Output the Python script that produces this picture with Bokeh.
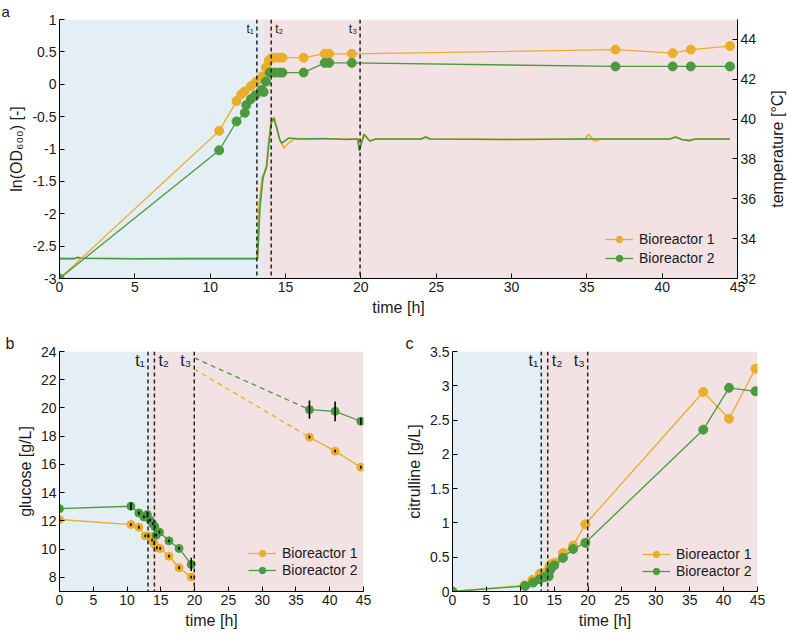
import numpy as np
from bokeh.plotting import figure
from bokeh.models import (Range1d, LinearAxis, FixedTicker, PrintfTickFormatter,
                          Legend, LegendItem, Label, Span, Title)
from bokeh.layouts import column, row
from bokeh.embed import file_html
from bokeh.resources import INLINE

# ---------------- data ----------------
phase_bounds = [0, 13.5, 45]          # growth phase (blue) / production phase (pink)
event_times = [13.1, 14.05, 19.95]    # t1, t2, t3
event_labels = ["t\u2081", "t\u2082", "t\u2083"]

# panel a: ln(OD600)
od_time_br1 = [0, 10.6, 11.75, 12.05, 12.3, 12.7, 13.05, 13.45, 13.7, 13.9, 14.05, 14.3, 14.6, 14.8,
               16.2, 17.6, 17.9, 19.4, 36.9, 40.7, 41.9, 44.5]
od_br1 = [-3.0, -0.72, -0.26, -0.16, -0.11, -0.03, 0.04, 0.12, 0.26, 0.37, 0.40, 0.41, 0.41, 0.41,
          0.41, 0.47, 0.47, 0.47, 0.535, 0.48, 0.535, 0.59]
od_time_br2 = [0, 10.6, 11.75, 12.3, 12.4, 12.7, 13.0, 13.4, 13.55, 13.7, 13.95, 14.05, 14.3, 14.6, 14.8,
               16.2, 17.6, 17.9, 19.4, 36.9, 40.7, 41.9, 44.5]
od_br2 = [-3.0, -1.02, -0.575, -0.44, -0.32, -0.23, -0.17, -0.09, -0.12, 0.04, 0.18, 0.18, 0.18, 0.18, 0.18,
          0.18, 0.33, 0.33, 0.33, 0.275, 0.275, 0.275, 0.275]

# panel a: temperature [°C]
temp_time_br1 = [0, 1.0, 1.2, 1.5, 5, 9, 13.1, 13.25, 13.45, 13.6, 13.75, 13.9, 14.05, 14.25, 14.45,
                 14.65, 14.9, 15.2, 15.6, 17.5, 19.8, 19.9, 20.25, 20.6, 21.0, 24.0, 24.3, 24.6, 30,
                 34.9, 35.1, 35.5, 36.0, 40.5, 40.9, 41.3, 41.8, 42.2, 44.5]
temp_br1 = [33.0, 33.0, 33.06, 33.02, 32.99, 33.0, 33.0, 35.8, 37.1, 37.3, 37.7, 39.0, 39.9, 40.1, 39.5,
            38.9, 38.55, 38.8, 39.02, 39.0, 39.0, 38.5, 39.2, 38.9, 39.0, 39.0, 39.1, 39.0, 38.98,
            39.0, 39.24, 38.9, 39.0, 39.0, 39.1, 38.98, 38.92, 39.0, 39.0]
temp_time_br2 = [0, 1.0, 1.2, 1.5, 5, 9, 13.15, 13.3, 13.5, 13.6, 13.75, 13.9, 14.05, 14.2, 14.4,
                 14.6, 14.75, 14.95, 15.2, 16, 17.5, 19.0, 19.8, 19.9, 20.2, 20.6, 21.0, 24.0, 24.3,
                 24.6, 30, 35, 40.5, 40.9, 41.3, 41.8, 42.2, 44.5]
temp_br2 = [33.0, 33.0, 33.06, 33.02, 32.99, 33.0, 33.0, 35.5, 37.0, 37.3, 37.6, 38.8, 39.8, 40.05, 39.6,
            39.0, 38.8, 38.9, 39.05, 39.0, 39.03, 38.98, 39.0, 38.4, 39.24, 38.9, 39.0, 39.0, 39.1,
            39.0, 38.98, 39.0, 39.0, 39.1, 38.98, 38.92, 39.0, 39.0]

# panel b: glucose [g/L]
glc_time_br1 = [0, 10.57, 11.75, 12.7, 13.2, 13.7, 14.0, 14.4, 14.9, 16.2, 17.7, 19.5]
glc_br1 = [12.1, 11.74, 11.55, 10.94, 10.92, 10.64, 10.4, 10.1, 10.05, 9.5, 8.68, 8.02]
glc_err_br1 = [0.1, 0.1, 0.1, 0.1, 0.1, 0.1, 0.1, 0.1, 0.1, 0.1, 0.1, 0.1]
glc_time_br2 = [0, 10.57, 11.75, 12.5, 13.0, 13.4, 13.8, 14.1, 14.3, 14.8, 16.2, 17.7, 19.5]
glc_br2 = [12.87, 13.04, 12.56, 12.28, 12.45, 12.05, 11.8, 11.6, 10.99, 11.2, 10.59, 10.05, 8.92]
glc_err_br2 = [0.05, 0.26, 0.1, 0.1, 0.2, 0.1, 0.1, 0.1, 0.1, 0.1, 0.1, 0.1, 0.47]
glc_late_time = [37.0, 40.8, 44.6]
glc_late_br1 = [17.93, 16.94, 15.8]
glc_late_err_br1 = [0.1, 0.1, 0.1]
glc_late_br2 = [19.88, 19.76, 19.06]
glc_late_err_br2 = [0.65, 0.7, 0.24]
glc_feed_time = [19.95, 37.0]
glc_feed_br1 = [22.75, 17.93]
glc_feed_br2 = [23.55, 19.88]

# panel c: citrulline [g/L]
cit_time_br1 = [0, 10.6, 11.8, 12.9, 13.6, 14.3, 14.6, 15.1, 16.3, 17.8, 19.6, 37.0, 40.8, 44.7]
cit_br1 = [0, 0.09, 0.17, 0.26, 0.27, 0.37, 0.40, 0.42, 0.56, 0.67, 0.98, 2.91, 2.52, 3.25]
cit_time_br2 = [0, 10.7, 11.9, 12.9, 13.6, 14.2, 14.4, 15.0, 16.3, 17.8, 19.6, 37.0, 40.8, 44.7]
cit_br2 = [0, 0.08, 0.13, 0.18, 0.21, 0.22, 0.31, 0.38, 0.49, 0.62, 0.71, 2.36, 2.97, 2.92]

x_ticks = [0, 5, 10, 15, 20, 25, 30, 35, 40, 45]
od_ticks = [-3, -2.5, -2, -1.5, -1, -0.5, 0, 0.5, 1]
temp_ticks = [32, 34, 36, 38, 40, 42, 44]
glc_ticks = [8, 10, 12, 14, 16, 18, 20, 22, 24]
cit_ticks = [0, 0.5, 1, 1.5, 2, 2.5, 3, 3.5]

# ---------------- style ----------------
YEL = "#e8ae2c"
GRN = "#4b9a3f"
BLUE_BG = "#e3eef5"
PINK_BG = "#f2e2e4"
FONT = "Liberation Sans"
TXT = "#1a1a1a"


def style_axis(ax):
    ax.axis_line_color = "black"
    ax.axis_line_width = 1
    ax.major_tick_in = 5
    ax.major_tick_out = 0
    ax.major_tick_line_color = "black"
    ax.minor_tick_line_color = None
    ax.major_label_text_font = FONT
    ax.major_label_text_font_size = "14px"
    ax.major_label_text_color = TXT
    ax.major_label_standoff = 3
    ax.axis_label_text_font = FONT
    ax.axis_label_text_font_size = "16px"
    ax.axis_label_text_font_style = "normal"
    ax.axis_label_text_color = TXT
    ax.axis_label_standoff = 4


def make_fig(width, height, yr, borders, ylabel, yticks, letter, letter_off, letter_size,
             xlabel="time [h]"):
    p = figure(width=width, height=height, x_range=Range1d(0, 45), y_range=Range1d(*yr),
               output_backend="svg", toolbar_location=None,
               min_border_left=borders[0], min_border_right=borders[1],
               min_border_top=borders[2], min_border_bottom=borders[3])
    p.title = Title(text=letter, align="left", offset=letter_off, standoff=0,
                    text_font=FONT, text_font_size=letter_size, text_font_style="normal",
                    text_color=TXT)
    p.outline_line_color = None
    p.grid.visible = False
    p.xaxis.axis_label = xlabel
    p.yaxis.axis_label = ylabel
    p.xaxis.ticker = FixedTicker(ticks=x_ticks)
    p.yaxis.ticker = FixedTicker(ticks=yticks)
    p.yaxis.formatter = PrintfTickFormatter(format="%g")
    p.xaxis.formatter = PrintfTickFormatter(format="%g")
    style_axis(p.xaxis[0])
    style_axis(p.yaxis[0])
    # phase backgrounds
    p.quad(left=phase_bounds[:-1], right=phase_bounds[1:], bottom=yr[0], top=yr[1],
           fill_color=[BLUE_BG, PINK_BG], line_color=None)
    # soft transition between phases
    b = phase_bounds[1]
    n = 8
    edges = np.linspace(b - 0.35, b + 0.35, n + 1)
    c1 = np.array([0xe3, 0xee, 0xf5]); c2 = np.array([0xf2, 0xe2, 0xe4])
    cols = ["#%02x%02x%02x" % tuple((c1 + (c2 - c1) * (i + 0.5) / n).astype(int)) for i in range(n)]
    p.quad(left=edges[:-1], right=edges[1:], bottom=yr[0], top=yr[1], fill_color=cols, line_color=None)
    return p


def add_events(p, font_size, y_screen):
    aligns = ["right", "left", "right"]
    offs = [-3, 4, -3]
    for t, lab, al, off in zip(event_times, event_labels, aligns, offs):
        p.add_layout(Span(location=t, dimension="height", line_color="#222222",
                          line_dash="4 3", line_width=1.5))
        p.add_layout(Label(x=t, y=y_screen, x_units="data", y_units="screen", text=lab,
                           text_align=al, text_baseline="middle", x_offset=off,
                           text_font=FONT, text_font_size=font_size, text_color=TXT))


def make_legend(p, items, loc, spacing):
    lg = Legend(items=items, location=loc, border_line_color=None, background_fill_alpha=0,
                padding=0, margin=0, spacing=spacing, glyph_width=28, glyph_height=16,
                label_height=16, label_standoff=6, label_text_font=FONT,
                label_text_font_size="14px", label_text_color=TXT)
    p.add_layout(lg)


# ---------------- panel a ----------------
pa = make_fig(765, 328, (-3, 1), (59, 28, 13, 50), "ln(OD\u2086\u2080\u2080) [-]", od_ticks,
              "a", -58, "15px")
pa.extra_y_ranges = {"temp": Range1d(32, 45)}
ax_t = LinearAxis(y_range_name="temp", ticker=FixedTicker(ticks=temp_ticks))
style_axis(ax_t)
pa.add_layout(ax_t, "right")

pa.line(temp_time_br1, temp_br1, y_range_name="temp", line_color=YEL, line_width=1.6)
pa.line(temp_time_br2, temp_br2, y_range_name="temp", line_color=GRN, line_width=1.6)

la1 = pa.line(od_time_br1, od_br1, line_color=YEL, line_width=1.3)
sa1 = pa.scatter(od_time_br1, od_br1, size=9, fill_color=YEL, line_color=YEL)
la2 = pa.line(od_time_br2, od_br2, line_color=GRN, line_width=1.3)
sa2 = pa.scatter(od_time_br2, od_br2, size=9, fill_color=GRN, line_color=GRN)
add_events(pa, "12px", 250)
make_legend(pa, [LegendItem(label="Bioreactor 1", renderers=[la1, sa1]),
                 LegendItem(label="Bioreactor 2", renderers=[la2, sa2])], (546, 12), 3)

# thin companion strip that carries the temperature axis title (reads bottom-to-top)
pl = figure(width=22, height=328, x_range=Range1d(0, 1), y_range=Range1d(32, 45),
            output_backend="svg", toolbar_location=None,
            min_border_left=20, min_border_right=0, min_border_top=13, min_border_bottom=50)
pl.outline_line_color = None
pl.grid.visible = False
pl.xaxis.visible = False
pl.yaxis.ticker = FixedTicker(ticks=[])
pl.yaxis.axis_line_color = None
pl.yaxis.major_tick_line_color = None
pl.yaxis.minor_tick_line_color = None
pl.yaxis.axis_label = "temperature [\u00b0C]"
pl.yaxis.axis_label_text_font = FONT
pl.yaxis.axis_label_text_font_size = "16px"
pl.yaxis.axis_label_text_font_style = "normal"
pl.yaxis.axis_label_text_color = TXT
pl.yaxis.axis_label_standoff = 0
pl.yaxis.major_label_standoff = 0

# ---------------- panel b ----------------
pb = make_fig(394, 307, (7, 24), (59, 31, 23, 43), "glucose [g/L]", glc_ticks, "b", -54, "16px")
pb.line(glc_feed_time, glc_feed_br1, line_color=YEL, line_width=1.3, line_dash="5 4")
pb.line(glc_feed_time, glc_feed_br2, line_color=GRN, line_width=1.3, line_dash="5 4")
lb1 = pb.line(glc_time_br1, glc_br1, line_color=YEL, line_width=1.3)
pb.line(glc_late_time, glc_late_br1, line_color=YEL, line_width=1.3)
lb2 = pb.line(glc_time_br2, glc_br2, line_color=GRN, line_width=1.3)
pb.line(glc_late_time, glc_late_br2, line_color=GRN, line_width=1.3)
sb1 = pb.scatter(glc_time_br1 + glc_late_time, glc_br1 + glc_late_br1, size=8,
                 fill_color=YEL, line_color=YEL)
sb2 = pb.scatter(glc_time_br2 + glc_late_time, glc_br2 + glc_late_br2, size=8,
                 fill_color=GRN, line_color=GRN)
for tt, yy, ee in [(glc_time_br1 + glc_late_time, glc_br1 + glc_late_br1, glc_err_br1 + glc_late_err_br1),
                   (glc_time_br2 + glc_late_time, glc_br2 + glc_late_br2, glc_err_br2 + glc_late_err_br2)]:
    yy = np.array(yy); ee = np.array(ee)
    pb.segment(x0=tt, x1=tt, y0=yy - ee, y1=yy + ee, line_color="black", line_width=1.6)
add_events(pb, "16px", 231)
make_legend(pb, [LegendItem(label="Bioreactor 1", renderers=[lb1, sb1]),
                 LegendItem(label="Bioreactor 2", renderers=[lb2, sb2])], (189, 13), 1)

# ---------------- panel c ----------------
pc = make_fig(393, 307, (0, 3.5), (58, 30, 23, 44), "citrulline [g/L]", cit_ticks, "c", -47, "16px")
lc1 = pc.line(cit_time_br1, cit_br1, line_color=YEL, line_width=1.3)
sc1 = pc.scatter(cit_time_br1, cit_br1, size=9, fill_color=YEL, line_color=YEL)
lc2 = pc.line(cit_time_br2, cit_br2, line_color=GRN, line_width=1.3)
sc2 = pc.scatter(cit_time_br2, cit_br2, size=9, fill_color=GRN, line_color=GRN)
add_events(pc, "16px", 231)
make_legend(pc, [LegendItem(label="Bioreactor 1", renderers=[lc1, sc1]),
                 LegendItem(label="Bioreactor 2", renderers=[lc2, sc2])], (190, 12), 1)

layout = column(row(pa, pl), row(pb, pc))
open("out.html", "w").write(file_html(layout, INLINE))
